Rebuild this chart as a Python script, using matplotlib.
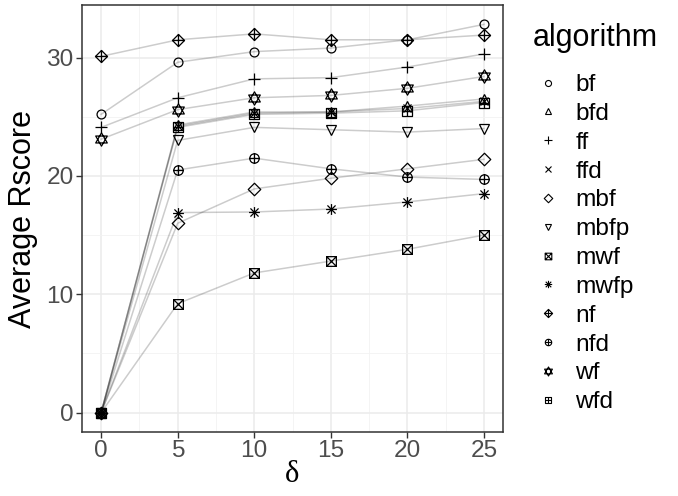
import numpy as np
import matplotlib
matplotlib.use("Agg")
import matplotlib.pyplot as plt
from matplotlib.path import Path
from matplotlib.lines import Line2D

plt.rcParams['font.family'] = ['Liberation Sans', 'DejaVu Sans']

delta = [0, 5, 10, 15, 20, 25]
algorithms = ["bf", "bfd", "ff", "ffd", "mbf", "mbfp", "mwf", "mwfp", "nf", "nfd", "wf", "wfd"]

bf = [25.2, 29.6, 30.5, 30.8, 31.5, 32.8]
bfd = [0, 24.3, 25.4, 25.4, 25.9, 26.5]
ff = [24.1, 26.6, 28.2, 28.3, 29.2, 30.3]
ffd = [0, 24.2, 25.3, 25.4, 25.7, 26.3]
mbf = [0, 16.0, 18.9, 19.8, 20.6, 21.4]
mbfp = [0, 23.0, 24.1, 23.9, 23.7, 24.0]
mwf = [0, 9.2, 11.8, 12.8, 13.8, 15.0]
mwfp = [0, 16.9, 16.95, 17.2, 17.8, 18.5]
nf = [30.1, 31.5, 32.0, 31.5, 31.5, 31.9]
nfd = [0, 20.5, 21.5, 20.6, 19.9, 19.7]
wf = [23.1, 25.6, 26.6, 26.8, 27.4, 28.4]
wfd = [0, 24.1, 25.2, 25.3, 25.5, 26.2]

series = [bf, bfd, ff, ffd, mbf, mbfp, mwf, mwfp, nf, nfd, wf, wfd]


# ggplot-like composite shapes
def seg_path(segs):
    verts, codes = [], []
    for (a, b) in segs:
        verts += [a, b]
        codes += [Path.MOVETO, Path.LINETO]
    return Path(verts, codes)

def poly(pts):
    return Path(pts + [pts[0]], [Path.MOVETO] + [Path.LINETO] * (len(pts) - 1) + [Path.CLOSEPOLY])

sq = poly([(-1, -1), (1, -1), (1, 1), (-1, 1)])
dia = poly([(0, -1.35), (1.35, 0), (0, 1.35), (-1.35, 0)])
circ = Path.unit_circle()
plus_in = seg_path([((-1, 0), (1, 0)), ((0, -1), (0, 1))])
plus_dia = seg_path([((-1.35, 0), (1.35, 0)), ((0, -1.35), (0, 1.35))])
x_in = seg_path([((-1, -1), (1, 1)), ((-1, 1), (1, -1))])
ast = seg_path([((-1, 0), (1, 0)), ((0, -1), (0, 1)),
                ((-0.75, -0.75), (0.75, 0.75)), ((-0.75, 0.75), (0.75, -0.75))])
tri_up = poly([(-1, -0.6), (1, -0.6), (0, 1.15)])
tri_dn = poly([(-1, 0.6), (1, 0.6), (0, -1.15)])

shapes = {
    "bf": "o",
    "bfd": "^",
    "ff": "+",
    "ffd": "x",
    "mbf": Path.make_compound_path(dia),
    "mbfp": "v",
    "mwf": Path.make_compound_path(sq, x_in),
    "mwfp": ast,
    "nf": Path.make_compound_path(dia, plus_dia),
    "nfd": Path.make_compound_path(circ, plus_in),
    "wf": Path.make_compound_path(tri_up, tri_dn),
    "wfd": Path.make_compound_path(sq, plus_in),
}
sizes = {"bf": 6.4, "bfd": 6.8, "ff": 8.4, "ffd": 6.2, "mbf": 9, "mbfp": 6.8,
         "mwf": 7, "mwfp": 7.8, "nf": 8.7, "nfd": 6.8, "wf": 9.6, "wfd": 6.6}

fig = plt.figure(figsize=(6.78, 4.96), dpi=100)
ax = fig.add_axes([82 / 678, 1 - 432 / 496, (503 - 82) / 678, (432 - 5) / 496])

for name, vals in zip(algorithms, series):
    ax.plot(delta, vals, color='black', alpha=0.2, lw=1.1, zorder=2)
for name, vals in zip(algorithms, series):
    ax.plot(delta, vals, ls='none', marker=shapes[name], ms=sizes[name],
            mfc='none', mec='black', mew=0.9, zorder=3)

ax.set_xlim(-1.25, 26.25)
ax.set_ylim(-1.64, 34.44)
ax.set_xticks([0, 5, 10, 15, 20, 25])
ax.set_yticks([0, 10, 20, 30])
ax.set_xticks([2.5, 7.5, 12.5, 17.5, 22.5], minor=True)
ax.set_yticks([5, 15, 25], minor=True)
ax.grid(True, which='major', color='#ebebeb', lw=1.1, zorder=0)
ax.grid(True, which='minor', color='#f2f2f2', lw=0.6, zorder=0)
ax.set_axisbelow(True)
for s in ax.spines.values():
    s.set_color('#333333')
    s.set_linewidth(1.1)
ax.tick_params(which='major', length=4, width=1, color='#333333',
               labelsize=17.6, labelcolor='#4d4d4d', pad=2)
ax.tick_params(which='minor', length=0)

ax.set_ylabel("Average Rscore", fontsize=22, labelpad=6)
ax.set_xlabel("δ", fontsize=22, family=['Liberation Serif', 'DejaVu Serif'], labelpad=-2)

handles = [Line2D([], [], ls='none', marker=shapes[n], ms=sizes[n] * 0.68, mfc='none',
                  mec='black', mew=0.8) for n in algorithms]
fig.text(533 / 678, 1 - 38 / 496, "algorithm", fontsize=22, va='center', ha='left')
leg = fig.legend(handles, algorithms, loc='upper left',
                 bbox_to_anchor=(533 / 678, 1 - 74 / 496), frameon=False,
                 fontsize=17.6, labelspacing=0.275, borderpad=0,
                 handlelength=1.2, handletextpad=0.53, borderaxespad=0)

fig.savefig("out.png", dpi=100)
